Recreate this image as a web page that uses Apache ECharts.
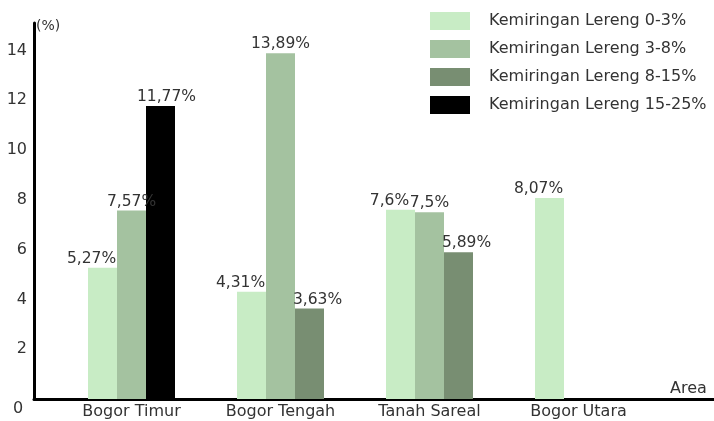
<!DOCTYPE html>
<html>
<head>
<meta charset="utf-8">
<script src="https://cdn.jsdelivr.net/npm/echarts@6/dist/echarts.min.js"></script>
<style>
  html, body { margin: 0; padding: 0; background: #fff; }
  #chart { width: 714px; height: 421px; }
</style>
</head>
<body>
<div id="chart"></div>
<script>
const areas = ['Bogor Timur', 'Bogor Tengah', 'Tanah Sareal', 'Bogor Utara'];
const seriesNames = ['Kemiringan Lereng 0-3%', 'Kemiringan Lereng 3-8%', 'Kemiringan Lereng 8-15%', 'Kemiringan Lereng 15-25%'];
const slope0to3 = [5.27, 4.31, 7.6, 8.07];
const slope3to8 = [7.57, 13.89, 7.5, null];
const slope8to15 = [null, 3.63, 5.89, null];
const slope15to25 = [11.77, null, null, null];
const yTicks = [2, 4, 6, 8, 10, 12, 14];

const colors = ['#c8ecc5', '#a4c2a0', '#788e72', '#000000'];
const font = 'DejaVu Sans';

const chart = echarts.init(document.getElementById('chart'), null, { renderer: 'canvas' });

const yMax = 15.1;

// bars share slots: 8-15% and 15-25% never overlap, so they sit in one slot (same stack)
const stacks = ['a', 'b', 'c', 'c'];
const values = [slope0to3, slope3to8, slope8to15, slope15to25];
const labelShift = [-11, 0, 8, 6];

const series = seriesNames.map((name, i) => ({
    name: name,
    type: 'bar',
    xAxisIndex: 1,
    yAxisIndex: 1,
    stack: stacks[i],
    barWidth: 29,
    barGap: 0,
    itemStyle: { color: colors[i] },
    label: {
        show: true,
        position: 'top',
        distance: 1,
        offset: [labelShift[i], 0],
        color: '#333',
        fontFamily: font,
        fontSize: 15.5,
        formatter: p => String(p.value).replace('.', ',') + '%'
    },
    data: values[i]
}));

const option = {
    animation: false,
    backgroundColor: '#fff',
    grid: [
        { left: 34, right: 0, top: 23, bottom: 22 },
        { left: 57, right: 61, top: 23, bottom: 22 }
    ],
    legend: {
        orient: 'vertical',
        left: 425,
        top: 7,
        itemWidth: 40,
        itemHeight: 18,
        itemGap: 10,
        icon: 'rect',
        data: seriesNames,
        textStyle: { color: '#333', fontFamily: font, fontSize: 16, padding: [0, 0, 0, 14] }
    },
    xAxis: [
        {
            gridIndex: 0,
            type: 'value',
            min: 0,
            max: 1,
            name: 'Area',
            nameLocation: 'end',
            nameGap: -44,
            nameTextStyle: { color: '#333', fontFamily: font, fontSize: 16, verticalAlign: 'bottom', padding: [0, 0, 2, 0] },
            axisLine: { show: true, lineStyle: { color: '#000', width: 3 } },
            axisTick: { show: false },
            axisLabel: { show: false },
            splitLine: { show: false }
        },
        {
            gridIndex: 1,
            type: 'category',
            data: areas,
            axisLine: { show: false },
            axisTick: { show: false },
            axisLabel: { color: '#333', fontFamily: font, fontSize: 16, margin: 5 }
        }
    ],
    yAxis: [
        {
            gridIndex: 0,
            type: 'value',
            min: 0,
            max: yMax,
            interval: 1,
            name: '(%)',
            nameLocation: 'end',
            nameGap: -3,
            nameTextStyle: { color: '#333', fontFamily: font, fontSize: 14, align: 'left', verticalAlign: 'middle', padding: [0, 0, 0, 2] },
            axisLine: { show: true, lineStyle: { color: '#000', width: 3 } },
            axisTick: { show: false },
            splitLine: { show: false },
            axisLabel: {
                color: '#333',
                fontFamily: font,
                fontSize: 16,
                margin: 7,
                showMaxLabel: false,
                formatter: v => (yTicks.indexOf(v) >= 0 ? String(v) : '')
            }
        },
        {
            gridIndex: 1,
            type: 'value',
            min: 0,
            max: yMax,
            show: false
        }
    ],
    graphic: [
        {
            type: 'text',
            left: 13,
            top: 401,
            style: { text: '0', fill: '#333', font: '16px "' + font + '"' }
        }
    ],
    series: series
};

chart.setOption(option);
</script>
</body>
</html>
